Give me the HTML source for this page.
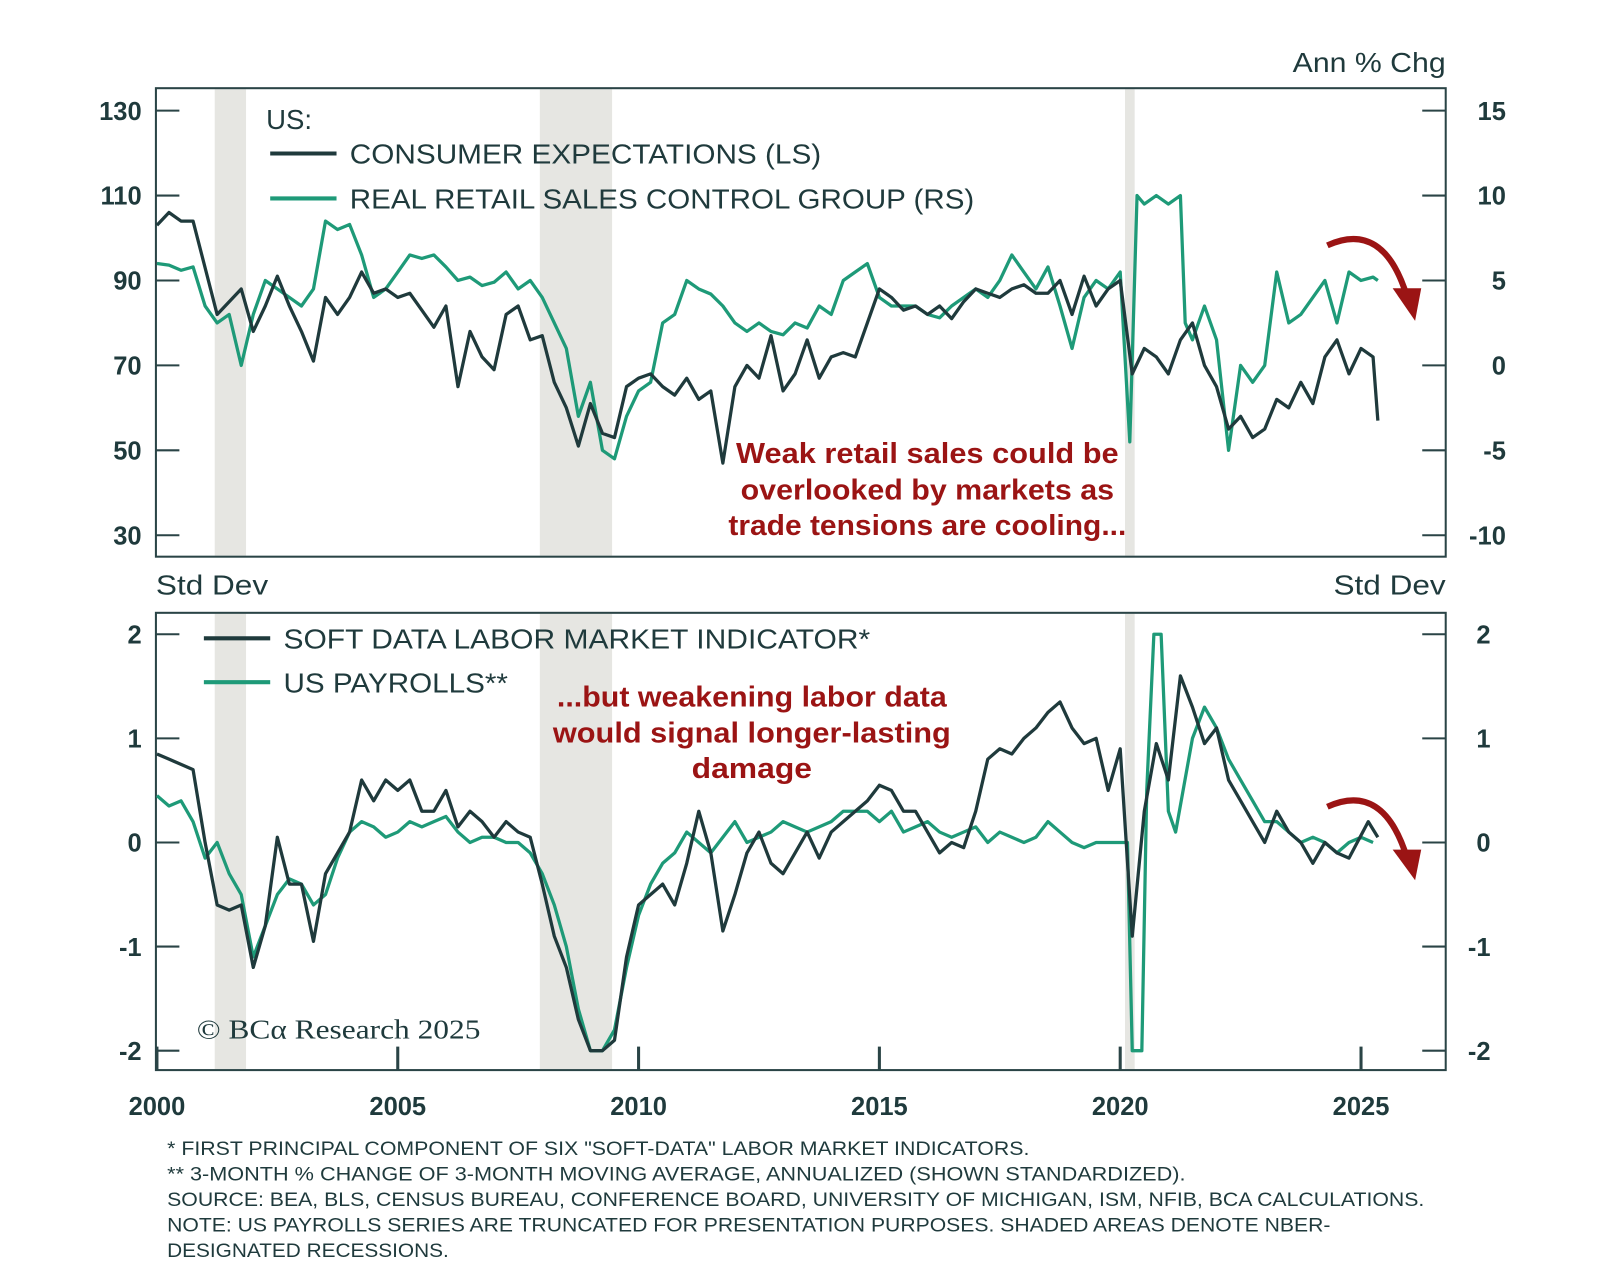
<!DOCTYPE html>
<html><head><meta charset="utf-8"><style>
html,body{margin:0;padding:0;background:#fff;}
svg{display:block;font-family:"Liberation Sans",sans-serif;}
.tk{font-size:25px;font-weight:bold;fill:#1f3a3c;}
.lg{font-size:27px;fill:#1f3a3c;}
.fn{font-size:19px;fill:#1f3a3c;}
.an{font-size:28px;fill:#9b1414;font-weight:bold;}
</style></head><body>
<svg id="chart" width="1600" height="1283" viewBox="-0.8 -0.4 1568 1257" preserveAspectRatio="none" xmlns="http://www.w3.org/2000/svg">
<g id="shades"></g>
<rect x="152" y="86" width="1264" height="459" fill="none" stroke="#2a4446" stroke-width="2"/>
<rect x="152" y="600" width="1264" height="448" fill="none" stroke="#2a4446" stroke-width="2"/>
<g id="axes"></g>
<g id="lines"></g>
<text class="lg" x="1416" y="70" text-anchor="end" textLength="150" lengthAdjust="spacingAndGlyphs">Ann % Chg</text>
<text class="lg" x="152" y="582" textLength="110" lengthAdjust="spacingAndGlyphs">Std Dev</text>
<text class="lg" x="1416" y="582" text-anchor="end" textLength="110" lengthAdjust="spacingAndGlyphs">Std Dev</text>
<text class="lg" x="260" y="126">US:</text>
<line x1="264" y1="150" x2="329" y2="150" stroke="#1f3a3c" stroke-width="4"/>
<text class="lg" x="342" y="160" textLength="462" lengthAdjust="spacingAndGlyphs">CONSUMER EXPECTATIONS (LS)</text>
<line x1="264" y1="194" x2="329" y2="194" stroke="#1e9a78" stroke-width="4"/>
<text class="lg" x="342" y="204" textLength="612" lengthAdjust="spacingAndGlyphs">REAL RETAIL SALES CONTROL GROUP (RS)</text>
<line x1="199" y1="625" x2="264" y2="625" stroke="#1f3a3c" stroke-width="4"/>
<text class="lg" x="277" y="635" textLength="575" lengthAdjust="spacingAndGlyphs">SOFT DATA LABOR MARKET INDICATOR*</text>
<line x1="199" y1="668" x2="264" y2="668" stroke="#1e9a78" stroke-width="4"/>
<text class="lg" x="277" y="678" textLength="220" lengthAdjust="spacingAndGlyphs">US PAYROLLS**</text>
<g class="an" text-anchor="middle">
<text x="908" y="453" textLength="375" lengthAdjust="spacingAndGlyphs">Weak retail sales could be</text>
<text x="908" y="489" textLength="366" lengthAdjust="spacingAndGlyphs">overlooked by markets as</text>
<text x="908" y="524" textLength="390" lengthAdjust="spacingAndGlyphs">trade tensions are cooling...</text>
</g>
<g class="an" text-anchor="middle">
<text x="736" y="692" textLength="382" lengthAdjust="spacingAndGlyphs">...but weakening labor data</text>
<text x="736" y="727" textLength="390" lengthAdjust="spacingAndGlyphs">would signal longer-lasting</text>
<text x="736" y="762" textLength="118" lengthAdjust="spacingAndGlyphs">damage</text>
</g>
<g>
<path d="M1300,240 Q1355,215 1378,290" fill="none" stroke="#9b1414" stroke-width="6"/>
<polygon points="1364,282 1392,282 1386,314" fill="#9b1414"/>
</g>
<g>
<path d="M1300,790 Q1355,765 1378,840" fill="none" stroke="#9b1414" stroke-width="6"/>
<polygon points="1364,832 1392,832 1386,862" fill="#9b1414"/>
</g>
<text x="192" y="1017" font-family="Liberation Serif,serif" font-size="27" fill="#1f3a3c" textLength="278" lengthAdjust="spacingAndGlyphs">© BCα Research 2025</text>
<g class="fn">
<text x="163" y="1131" textLength="845" lengthAdjust="spacingAndGlyphs">* FIRST PRINCIPAL COMPONENT OF SIX "SOFT-DATA" LABOR MARKET INDICATORS.</text>
<text x="163" y="1156" textLength="998" lengthAdjust="spacingAndGlyphs">** 3-MONTH % CHANGE OF 3-MONTH MOVING AVERAGE, ANNUALIZED (SHOWN STANDARDIZED).</text>
<text x="163" y="1181" textLength="1232" lengthAdjust="spacingAndGlyphs">SOURCE: BEA, BLS, CENSUS BUREAU, CONFERENCE BOARD, UNIVERSITY OF MICHIGAN, ISM, NFIB, BCA CALCULATIONS.</text>
<text x="163" y="1206" textLength="1140" lengthAdjust="spacingAndGlyphs">NOTE: US PAYROLLS SERIES ARE TRUNCATED FOR PRESENTATION PURPOSES. SHADED AREAS DENOTE NBER-</text>
<text x="163" y="1231" textLength="276" lengthAdjust="spacingAndGlyphs">DESIGNATED RECESSIONS.</text>
</g>
</svg>
<script>
const recessionStarts=[2001.2,2007.95,2020.1];
const recessionEnds=[2001.85,2009.45,2020.3];
const xTickYears=[2000,2005,2010,2015,2020,2025];
const topLeftTicks=[130,110,90,70,50,30];
const topRightTicks=[15,10,5,0,-5,-10];
const bottomTicks=[2,1,0,-1,-2];
const q=[];for(let y=2000;y<2025.3;y+=0.25)q.push(+y.toFixed(2));
const consumerDates=q.concat([2025.35]);
const consumerValues=[103,106,104,104,93,82,85,88,78,84,91,84,78,71,86,82,86,92,87,88,86,87,83,79,84,65,78,72,69,82,84,76,77,66,60,51,61,54,53,65,67,68,65,63,67,62,64,47,65,70,67,77,64,68,76,67,72,73,72,80,88,86,83,84,82,84,81,85,88,87,86,88,89,87,87,90,82,91,84,88,90,68,74,72,68,76,80,70,65,55,58,53,55,62,60,66,61,72,76,68,74,72,57];
const retailDates=[2000,2000.25,2000.5,2000.75,2001,2001.25,2001.5,2001.75,2002,2002.25,2002.5,2002.75,2003,2003.25,2003.5,2003.75,2004,2004.25,2004.5,2004.75,2005,2005.25,2005.5,2005.75,2006,2006.25,2006.5,2006.75,2007,2007.25,2007.5,2007.75,2008,2008.25,2008.5,2008.75,2009,2009.25,2009.5,2009.75,2010,2010.25,2010.5,2010.75,2011,2011.25,2011.5,2011.75,2012,2012.25,2012.5,2012.75,2013,2013.25,2013.5,2013.75,2014,2014.25,2014.5,2014.75,2015,2015.25,2015.5,2015.75,2016,2016.25,2016.5,2016.75,2017,2017.25,2017.5,2017.75,2018,2018.25,2018.5,2018.75,2019,2019.25,2019.5,2019.75,2020,2020.2,2020.35,2020.5,2020.75,2021,2021.25,2021.35,2021.5,2021.75,2022,2022.25,2022.5,2022.75,2023,2023.25,2023.5,2023.75,2024,2024.25,2024.5,2024.75,2025,2025.25,2025.35];
const retailValues=[6,5.9,5.6,5.8,3.5,2.5,3,0,3,5,4.5,4,3.5,4.5,8.5,8,8.3,6.5,4,4.5,5.5,6.5,6.3,6.5,5.8,5,5.2,4.7,4.9,5.5,4.5,5,4,2.5,1,-3,-1,-5,-5.5,-3,-1.5,-1,2.5,3,5,4.5,4.2,3.5,2.5,2,2.5,2,1.8,2.5,2.2,3.5,3,5,5.5,6,4,3.5,3.5,3.5,3,2.8,3.5,4,4.5,4,5,6.5,5.5,4.5,5.8,3.5,1,4,5,4.5,5.5,-4.5,10,9.5,10,9.5,10,2.5,1.5,3.5,1.5,-5,0,-1,0,5.5,2.5,3,4,5,2.5,5.5,5,5.2,5];
const softDates=q.slice(0,100).concat([2025.15,2025.35]);
const softValues=[0.85,0.8,0.75,0.7,0,-0.6,-0.65,-0.6,-1.2,-0.8,0.05,-0.4,-0.4,-0.95,-0.3,-0.1,0.1,0.6,0.4,0.6,0.5,0.6,0.3,0.3,0.5,0.15,0.3,0.2,0.05,0.2,0.1,0.05,-0.4,-0.9,-1.2,-1.7,-2,-2,-1.9,-1.1,-0.6,-0.5,-0.4,-0.6,-0.2,0.3,-0.1,-0.85,-0.5,-0.1,0.1,-0.2,-0.3,-0.1,0.1,-0.15,0.1,0.2,0.3,0.4,0.55,0.5,0.3,0.3,0.1,-0.1,0,-0.05,0.3,0.8,0.9,0.85,1,1.1,1.25,1.35,1.1,0.95,1,0.5,0.9,-0.9,0.3,0.95,0.6,1.6,1.3,0.95,1.1,0.6,0.4,0.2,0,0.3,0.1,0,-0.2,0,-0.1,-0.15,0.2,0.05,-0.7];
const payDates=q.slice(0,81).concat([2020.15,2020.25,2020.45,2020.55,2020.7,2020.85,2021,2021.15,2021.5,2021.75,2022,2022.25,2022.5,2022.75,2023,2023.25,2023.5,2023.75,2024,2024.25,2024.5,2024.75,2025,2025.25]);
const payValues=[0.45,0.35,0.4,0.2,-0.15,0,-0.3,-0.5,-1.1,-0.8,-0.5,-0.35,-0.4,-0.6,-0.5,-0.15,0.1,0.2,0.15,0.05,0.1,0.2,0.15,0.2,0.25,0.1,0,0.05,0.05,0,0,-0.1,-0.3,-0.6,-1,-1.6,-2,-2,-1.8,-1.2,-0.7,-0.4,-0.2,-0.1,0.1,0,-0.1,0.05,0.2,0,0.05,0.1,0.2,0.15,0.1,0.15,0.2,0.3,0.3,0.3,0.2,0.3,0.1,0.15,0.2,0.1,0.05,0.1,0.15,0,0.1,0.05,0,0.05,0.2,0.1,0,-0.05,0,0,0,0,-2,-2,0.5,2,2,0.3,0.1,1,1.3,1.1,0.8,0.6,0.4,0.2,0.2,0.1,0,0.05,0,-0.1,0,0.05,0];

const NS="http://www.w3.org/2000/svg";
const X=yr=>153+(yr-2000)*47.2;
const YL=v=>108+(130-v)*83.2/20;
const YR=v=>108+(15-v)*83.2/5;
const YB=v=>825-v*102;
function mk(tag,attrs,parent){const e=document.createElementNS(NS,tag);for(const k in attrs)e.setAttribute(k,attrs[k]);parent.appendChild(e);return e;}
const shades=document.getElementById('shades'),axes=document.getElementById('axes'),lines=document.getElementById('lines');
recessionStarts.forEach((s,i)=>{
  const w=X(recessionEnds[i])-X(s);
  const a=mk('rect',{x:X(s),y:87,width:w,height:457,fill:'#e6e6e2'},shades);
  
  
  const b=mk('rect',{x:X(s),y:601,width:w,height:446,fill:'#e6e6e2'},shades);
  
  
});
topLeftTicks.forEach(v=>{
  const y=YL(v);
  mk('line',{x1:152,x2:175,y1:y,y2:y,stroke:'#2a4446','stroke-width':2},axes);
  const t=mk('text',{x:138,y:y+9,'text-anchor':'end',class:'tk'},axes);t.textContent=v;
  
  
});
topRightTicks.forEach(v=>{
  const y=YR(v);
  mk('line',{x1:1393,x2:1416,y1:y,y2:y,stroke:'#2a4446','stroke-width':2},axes);
  const t=mk('text',{x:1475,y:y+9,'text-anchor':'end',class:'tk'},axes);t.textContent=v;
  
  
});
bottomTicks.forEach(v=>{
  const y=YB(v);
  mk('line',{x1:152,x2:175,y1:y,y2:y,stroke:'#2a4446','stroke-width':2},axes);
  mk('line',{x1:1393,x2:1416,y1:y,y2:y,stroke:'#2a4446','stroke-width':2},axes);
  const t=mk('text',{x:138,y:y+9,'text-anchor':'end',class:'tk'},axes);t.textContent=v;
  
  
  const r=mk('text',{x:1460,y:y+9,'text-anchor':'end',class:'tk'},axes);r.textContent=v;
  
  
});
xTickYears.forEach(yr=>{
  const x=X(yr);
  mk('line',{x1:x,x2:x,y1:1048,y2:1025,stroke:'#2a4446','stroke-width':3},axes);
  const t=mk('text',{x:x,y:1092,'text-anchor':'middle',class:'tk'},axes);t.textContent=yr;
  
  
});
function series(dates,vals,yf,color,name){
  const d=dates.map((t,i)=>(i?'L':'M')+X(t).toFixed(1)+','+yf(vals[i]).toFixed(1)).join(' ');
  const p=mk('path',{d:d,fill:'none',stroke:color,'stroke-width':3.2,'stroke-linejoin':'round'},lines);
  
  
}
series(retailDates,retailValues,YR,'#1e9a78','retail-sales-line');
series(consumerDates,consumerValues,YL,'#1f3a3c','consumer-expectations-line');
series(payDates,payValues,YB,'#1e9a78','payrolls-line');
series(softDates,softValues,YB,'#1f3a3c','soft-data-line');
</script>
</body></html>
